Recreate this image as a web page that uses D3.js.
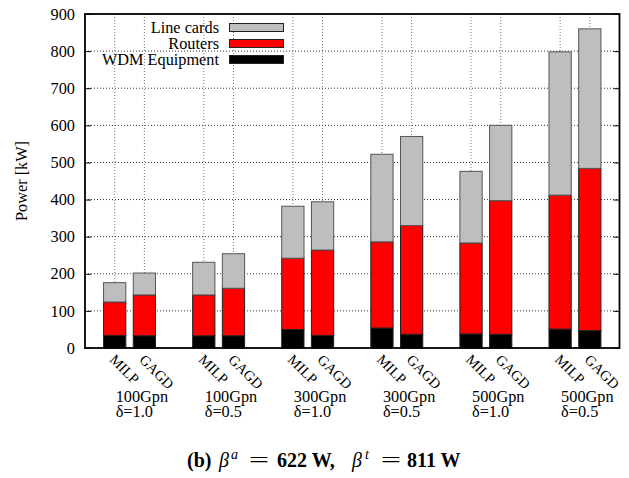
<!DOCTYPE html>
<html>
<head>
<meta charset="utf-8">
<script src="https://cdn.jsdelivr.net/npm/d3@7"></script>
<style>
  html, body { margin: 0; padding: 0; background: #fff; }
</style>
</head>
<body>
<svg id="chart" width="629" height="478"></svg>
<script>
// Scenario groups (capacity, delta) and the two solution methods per group
const groups = [
  ["100Gpn", "δ=1.0"],
  ["100Gpn", "δ=0.5"],
  ["300Gpn", "δ=1.0"],
  ["300Gpn", "δ=0.5"],
  ["500Gpn", "δ=1.0"],
  ["500Gpn", "δ=0.5"]
];
const methods = ["MILP", "GAGD"];

// Power components in kW, one value per bar (group-major: MILP, GAGD, ...)
const wdmEquipment = [34, 33, 33, 33, 50, 34, 54, 37, 38, 37, 51, 47];
const routers      = [90, 110, 110, 128, 192, 230, 232, 293, 245, 360, 361, 437];
const lineCards    = [52, 59, 88, 93, 140, 130, 236, 240, 193, 203, 386, 376];

const yTicks = [0, 100, 200, 300, 400, 500, 600, 700, 800, 900];
const seriesNames = ["WDM Equipment", "Routers", "Line cards"];
const seriesColors = ["#000000", "#ff0000", "#bebebe"];

const FONT = "'Liberation Serif', 'Times New Roman', serif";
const FS = "16.3px";

const svg = d3.select("#chart");
const m = { left: 85, right: 629 - 619.5, top: 14, bottom: 478 - 348 };
const W = 629 - m.left - m.right;
const H = 478 - m.top - m.bottom;
const g = svg.append("g").attr("transform", `translate(${m.left},${m.top})`);

// Each group occupies three slots: two bars and a gap
const barPos = [];
groups.forEach((grp, gi) => methods.forEach((mt, mi) => barPos.push(gi * 3 + mi)));

const x = d3.scaleLinear().domain([-1, 17]).range([0, W]);
const y = d3.scaleLinear().domain([0, 900]).range([H, 0]);
const bw = x(0.75) - x(0);

// Grid lines
g.append("g").selectAll("line").data(yTicks.slice(1, -1)).join("line")
  .attr("x1", 0).attr("x2", W)
  .attr("y1", d => y(d)).attr("y2", d => y(d))
  .attr("stroke", "#000").attr("stroke-width", 0.8).attr("stroke-dasharray", "1,2");
g.append("g").selectAll("line").data(barPos).join("line")
  .attr("x1", d => x(d)).attr("x2", d => x(d))
  .attr("y1", 0).attr("y2", H)
  .attr("stroke", "#555").attr("stroke-width", 0.8).attr("stroke-dasharray", "1,2");

// Stacked bars
const stackRows = barPos.map((p, i) => ({ pos: p, wdm: wdmEquipment[i], rt: routers[i], lc: lineCards[i] }));
const stacked = d3.stack().keys(["wdm", "rt", "lc"])(stackRows);
stacked.forEach((layer, li) => {
  g.append("g").selectAll("rect").data(layer).join("rect")
    .attr("x", d => x(d.data.pos) - bw / 2)
    .attr("width", bw)
    .attr("y", d => y(d[1]))
    .attr("height", d => y(d[0]) - y(d[1]))
    .attr("fill", seriesColors[li])
    .attr("stroke", li === 2 ? "#555" : "#222")
    .attr("stroke-width", 1);
});

// Axes: ticks on left and mirrored on right, pointing inward
const yAxisL = d3.axisLeft(y).tickValues(yTicks).tickSize(-6).tickPadding(10);
const gl = g.append("g").call(yAxisL);
gl.select(".domain").remove();
gl.selectAll("text").style("font-family", FONT).style("font-size", FS);
gl.selectAll("line").attr("stroke", "#000");
const yAxisR = d3.axisRight(y).tickValues(yTicks).tickSize(-6).tickFormat("");
const gr = g.append("g").attr("transform", `translate(${W},0)`).call(yAxisR);
gr.select(".domain").remove();

// Border
g.append("rect").attr("x", 0).attr("y", 0).attr("width", W).attr("height", H)
  .attr("fill", "none").attr("stroke", "#000").attr("stroke-width", 1.8);

// Rotated method labels
g.append("g").selectAll("text").data(barPos).join("text")
  .attr("transform", (d) => `translate(${x(d) - 6},${H + 12.5}) rotate(45)`)
  .style("font-family", FONT).style("font-size", "14.5px")
  .text((d, i) => methods[i % 2]);

// Group labels
const gLab = g.append("g").selectAll("text").data(groups).join("text")
  .attr("x", (d, i) => x(i * 3) + 1)
  .attr("y", H + 54)
  .style("font-family", FONT).style("font-size", FS);
gLab.append("tspan").text(d => d[0]);
gLab.append("tspan").attr("x", (d, i) => x(i * 3) + 1).attr("dy", 15).text(d => d[1]);

// Y axis title
svg.append("text")
  .attr("transform", `translate(27,${m.top + H / 2}) rotate(-90)`)
  .attr("text-anchor", "middle")
  .style("font-family", FONT).style("font-size", FS)
  .text("Power [kW]");

// Legend (top-down: Line cards, Routers, WDM Equipment)
const legendItems = [2, 1, 0];
const lg = svg.append("g");
legendItems.forEach((si, r) => {
  const yy = 23.5 + r * 16;
  lg.append("rect").attr("x", 229.5).attr("y", yy).attr("width", 54).attr("height", 8)
    .attr("fill", seriesColors[si]).attr("stroke", "#222").attr("stroke-width", 1);
  lg.append("text").attr("x", 219).attr("y", yy + 9.5).attr("text-anchor", "end")
    .style("font-family", FONT).style("font-size", FS).text(seriesNames[si]);
});

// Caption, laid out piece by piece with math-style spacing;
// the "=" signs are widened like a math-mode relation symbol
const capPieces = [
  { t: "(b)", x: 187, bold: true },
  { t: "β", x: 219, italic: true },
  { t: "a", x: 231, italic: true, sup: true },
  { t: "=", x: 259, bold: true, wide: true },
  { t: "622 W,", x: 277, bold: true },
  { t: "β", x: 352, italic: true },
  { t: "t", x: 365, italic: true, sup: true },
  { t: "=", x: 391, bold: true, wide: true },
  { t: "811 W", x: 407, bold: true }
];
svg.append("g").selectAll("text").data(capPieces).join("text")
  .attr("transform", d => d.wide ? `translate(${d.x},467) scale(1.8,1)` : `translate(${d.x},${d.sup ? 459 : 467})`)
  .attr("text-anchor", d => d.wide ? "middle" : "start")
  .style("font-family", FONT)
  .style("font-size", d => d.sup ? "14px" : "20px")
  .style("font-weight", d => d.wide ? "normal" : (d.bold ? "bold" : "normal"))
  .style("font-style", d => d.italic ? "italic" : "normal")
  .text(d => d.t);
</script>
</body>
</html>
